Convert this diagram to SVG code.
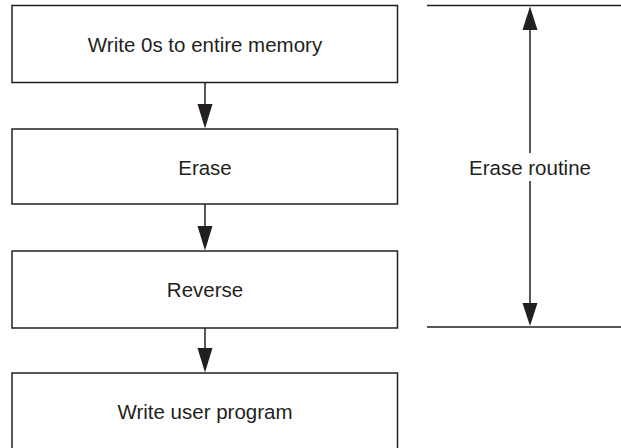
<svg xmlns="http://www.w3.org/2000/svg" width="621" height="448" viewBox="0 0 621 448">
<style>
.box{fill:#fff;stroke:#231f20;stroke-width:1.5}
.ln{fill:none;stroke:#231f20;stroke-width:1.5}
.hd{fill:#231f20;stroke:none}
.t{font-family:"Liberation Sans",Arial,sans-serif;font-size:20.5px;fill:#231f20;text-anchor:middle}
</style>
<rect width="621" height="448" fill="#fff"/>
<g id="n1"><rect class="box" x="12" y="5.5" width="385.5" height="77"/><text class="t" x="205" y="52">Write 0s to entire memory</text></g>
<g id="n2"><rect class="box" x="12" y="129" width="385.5" height="75"/><text class="t" x="205" y="175">Erase</text></g>
<g id="n3"><rect class="box" x="12" y="251" width="385.5" height="77"/><text class="t" x="205" y="297">Reverse</text></g>
<g id="n4"><rect class="box" x="12" y="373" width="385.5" height="82"/><text class="t" x="205" y="419">Write user program</text></g>
<g id="connectors">
<line class="ln" x1="205" y1="82.5" x2="205" y2="106"/><polygon class="hd" points="197.5,104 212.5,104 205,128.5"/>
<line class="ln" x1="205" y1="204" x2="205" y2="228"/><polygon class="hd" points="197.5,226 212.5,226 205,250.5"/>
<line class="ln" x1="205" y1="328" x2="205" y2="350"/><polygon class="hd" points="197.5,348 212.5,348 205,372.5"/>
</g>
<g id="span">
<line class="ln" x1="427" y1="5.5" x2="621" y2="5.5"/>
<line class="ln" x1="427" y1="327" x2="621" y2="327"/>
<line class="ln" x1="530" y1="27" x2="530" y2="153"/>
<line class="ln" x1="530" y1="181" x2="530" y2="307"/>
<polygon class="hd" points="530,6.5 522.5,30 537.5,30"/>
<polygon class="hd" points="530,326 522.5,303 537.5,303"/>
<text class="t" x="530" y="175">Erase routine</text>
</g>
</svg>
